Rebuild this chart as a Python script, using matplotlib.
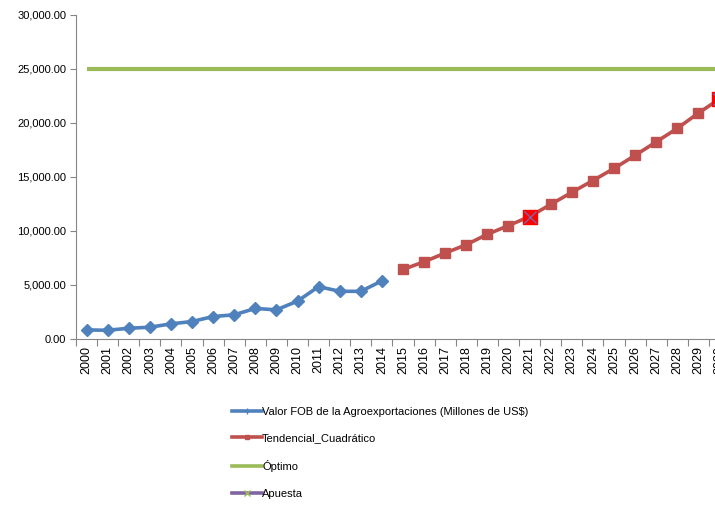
import matplotlib.pyplot as plt
from matplotlib.lines import Line2D
from matplotlib.ticker import FuncFormatter

plt.rcParams['font.family'] = ['Liberation Sans', 'DejaVu Sans']

# Years on the category axis
years = [str(y) for y in range(2000, 2031)]

# Observed FOB value (2000-2014)
fob_years = years[:15]
fob_values = [840, 810, 995, 1090, 1400, 1620, 2080, 2240, 2830, 2700,
              3510, 4850, 4415, 4415, 5380]

# Quadratic trend projection (2015-2030)
trend_years = years[15:]
trend_values = [6440, 7150, 7960, 8730, 9700, 10500, 11340, 12460,
                13580, 14670, 15790, 17000, 18250, 19500, 20920, 22220]

# Target line
optimo_values = [25000] * len(years)

# Bet points
apuesta_years = ['2021', '2030']
apuesta_values = [11340, 22220]

blue = '#4F81BD'
red = '#C0504D'
green = '#9BBB59'
purple = '#8064A2'
grey = '#868686'

fig = plt.figure(figsize=(7.15, 5.05), dpi=100)
ax = fig.add_axes([76 / 715, 166 / 505, 654 / 715, 324 / 505])

pos = {y: i for i, y in enumerate(years)}

ax.plot([pos[y] for y in years], optimo_values, color=green, lw=3.0,
        solid_capstyle='butt', zorder=2)
ax.plot([pos[y] for y in fob_years], fob_values, color=blue, lw=2.6,
        marker='D', markersize=6.5, zorder=3)
ax.plot([pos[y] for y in trend_years], trend_values, color=red, lw=2.6,
        marker='s', markersize=6.5, zorder=3)
ax.plot([pos[y] for y in apuesta_years], apuesta_values, ls='none',
        marker='s', markersize=10, markerfacecolor='red',
        markeredgecolor='red', zorder=4)
ax.plot([pos[y] for y in apuesta_years], apuesta_values, ls='none',
        marker='x', markersize=8, markeredgecolor=purple, mew=1.0, zorder=5)

ax.set_xlim(-0.5, len(years) - 0.5)
ax.set_ylim(0, 30000)
ax.set_yticks(range(0, 30001, 5000))
ax.yaxis.set_major_formatter(FuncFormatter(lambda v, p: f'{v:,.2f}'))

ax.set_xticks(range(len(years)))
ax.set_xticklabels(years, rotation=90)
ax.set_xticks([i - 0.5 for i in range(len(years) + 1)], minor=True)
ax.tick_params(axis='x', which='major', length=0, pad=5, labelsize=9)
ax.tick_params(axis='x', which='minor', length=5, color=grey, width=0.8)
ax.tick_params(axis='y', length=4, color=grey, width=0.8, labelsize=8, pad=3)

for side in ['top', 'right']:
    ax.spines[side].set_visible(False)
for side in ['left', 'bottom']:
    ax.spines[side].set_color(grey)
    ax.spines[side].set_linewidth(0.8)

handles = [
    Line2D([], [], color=blue, lw=2.6, marker='+', markersize=4),
    Line2D([], [], color=red, lw=2.6, marker='s', markersize=3),
    Line2D([], [], color=green, lw=2.6),
    Line2D([], [], color=purple, lw=2.6, marker='x', markersize=4,
           markeredgecolor=green),
]
labels = ['Valor FOB de la Agroexportaciones (Millones de US$)',
          'Tendencial_Cuadrático', 'Óptimo', 'Apuesta']
fig.legend(handles, labels, loc='upper left', bbox_to_anchor=(226 / 715, 1 - 401 / 505),
           frameon=False, fontsize=8, handlelength=2.7, handletextpad=0.05,
           labelspacing=1.5, borderpad=0)

fig.savefig('out.png', dpi=100)
